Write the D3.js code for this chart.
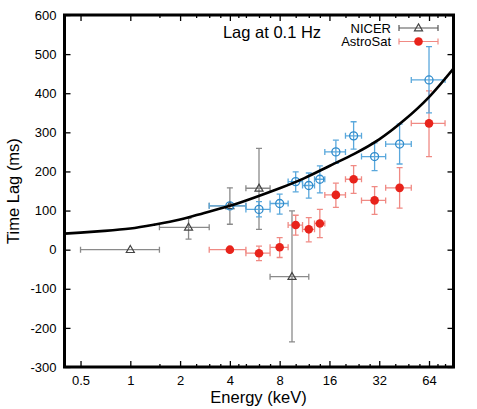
<!DOCTYPE html>
<html>
<head>
<meta charset="utf-8">
<script src="https://cdn.jsdelivr.net/npm/d3@7"></script>
<style>
  body { margin: 0; background: #fff; }
  svg { font-family: "Liberation Sans", Arial, sans-serif; }
</style>
</head>
<body>
<div id="chart"></div>
<script>
// NICER points (energy, energy range, lag, lag range)
const nicerE = [1, 2.25, 4, 6, 9.5];
const nicerElo = [0.5, 1.5, 3, 5, 7];
const nicerEhi = [1.5, 3, 5, 7, 12];
const nicerLag = [0, 57, 112, 157, -69];
const nicerLagLo = [0, 27, 65, 52, -236];
const nicerLagHi = [0, 80, 158, 259, 99];

// AstroSat (red) and the blue open circles share energy bins
const astroE = [4, 6, 8, 10, 12, 14, 17.5, 22.4, 30, 42.5, 64];
const astroElo = [3, 5, 7, 9, 11, 13, 15, 20, 25, 35, 50];
const astroEhi = [5, 7, 9, 11, 13, 15, 20, 25, 35, 50, 80];
const astroLag = [0, -9, 6, 63, 52, 67, 140, 180, 126, 158, 323];
const astroLagLo = [0, -28, -20, 37, 20, 31, 108, 144, 90, 106, 238];
const astroLagHi = [0, 9, 31, 88, 82, 103, 170, 215, 161, 210, 406];

const blueLag = [112, 103, 118, 174, 164, 180, 250, 291, 238, 270, 434];
const blueLagLo = [112, 84, 91, 148, 132, 145, 221, 257, 202, 219, 350];
const blueLagHi = [112, 123, 142, 199, 196, 214, 280, 327, 273, 321, 519];

// model curve
const curveE = [0.4, 0.5, 0.7, 1, 1.4, 2, 2.8, 4, 5.7, 8, 11.3, 16, 22.6, 32, 45, 64, 90];
const curveLag = [41, 43.5, 48, 54, 64, 77, 94, 112, 134, 157, 183, 214, 245, 282, 330, 390, 463];

const xTicks = [0.5, 1, 2, 4, 8, 16, 32, 64];
const xMinorTicks = [1.5, 2.5, 3, 3.5, 4.5, 5, 6, 7, 10, 12, 14, 20, 24, 28, 40, 48, 56, 72, 80];
const yTicks = [-300, -200, -100, 0, 100, 200, 300, 400, 500, 600];

const W = 477, H = 409;
const mLeft = 64.5, mRight = 453.5, mTop = 15, mBottom = 367;

const svg = d3.select("#chart").append("svg")
    .attr("width", W)
    .attr("height", H);

const x = d3.scaleLog().base(2).domain([0.4, 90]).range([mLeft, mRight]);
const y = d3.scaleLinear().domain([-300, 600]).range([mBottom, mTop]);

svg.append("defs").append("clipPath").attr("id", "clip")
    .append("rect")
    .attr("x", mLeft).attr("y", mTop)
    .attr("width", mRight - mLeft).attr("height", mBottom - mTop);

const fmt = d => String(d);

// axes with inward ticks
svg.append("g")
    .attr("transform", `translate(0,${mBottom})`)
    .call(d3.axisBottom(x).tickValues(xTicks).tickFormat(fmt).tickSize(-6).tickPadding(9))
    .call(g => g.select(".domain").remove());
svg.append("g")
    .attr("transform", `translate(0,${mBottom})`)
    .call(d3.axisBottom(x).tickValues(xMinorTicks).tickFormat("").tickSize(-3))
    .call(g => g.select(".domain").remove());
svg.append("g")
    .attr("transform", `translate(0,${mTop})`)
    .call(d3.axisTop(x).tickValues(xTicks).tickFormat("").tickSize(-6))
    .call(g => g.select(".domain").remove());
svg.append("g")
    .attr("transform", `translate(0,${mTop})`)
    .call(d3.axisTop(x).tickValues(xMinorTicks).tickFormat("").tickSize(-3))
    .call(g => g.select(".domain").remove());
svg.append("g")
    .attr("transform", `translate(${mLeft},0)`)
    .call(d3.axisLeft(y).tickValues(yTicks).tickFormat(fmt).tickSize(-6).tickPadding(8))
    .call(g => g.select(".domain").remove());
svg.append("g")
    .attr("transform", `translate(${mRight},0)`)
    .call(d3.axisRight(y).tickValues(yTicks).tickFormat("").tickSize(-6))
    .call(g => g.select(".domain").remove());

svg.selectAll(".tick line").attr("stroke", "#000").attr("stroke-width", 1.3);
svg.selectAll(".tick text").attr("font-size", 13).attr("fill", "#000")
    .attr("font-family", "Liberation Sans, Arial, sans-serif");

// axis titles
svg.append("text")
    .attr("x", 258.5)
    .attr("y", 403)
    .attr("text-anchor", "middle")
    .attr("font-size", 16.5)
    .text("Energy (keV)");
svg.append("text")
    .attr("transform", `translate(19,${(mTop + mBottom) / 2}) rotate(-90)`)
    .attr("text-anchor", "middle")
    .attr("font-size", 16.5)
    .text("Time Lag (ms)");

svg.append("text")
    .attr("x", 272)
    .attr("y", 38)
    .attr("text-anchor", "middle")
    .attr("font-size", 16.5)
    .text("Lag at 0.1 Hz");

const plot = svg.append("g").attr("clip-path", "url(#clip)");

function errorBars(g, E, Elo, Ehi, V, Vlo, Vhi, color) {
    const cap = 3;
    E.forEach((e, i) => {
        const cx = x(e), cy = y(V[i]);
        const x0 = x(Elo[i]), x1 = x(Ehi[i]);
        const ea = g.append("g").attr("stroke", color).attr("stroke-width", 1.3).attr("fill", "none");
        ea.append("line").attr("x1", x0).attr("x2", x1).attr("y1", cy).attr("y2", cy);
        ea.append("line").attr("x1", x0).attr("x2", x0).attr("y1", cy - cap).attr("y2", cy + cap);
        ea.append("line").attr("x1", x1).attr("x2", x1).attr("y1", cy - cap).attr("y2", cy + cap);
        if (Vhi[i] !== Vlo[i]) {
            const y0 = y(Vlo[i]), y1 = y(Vhi[i]);
            ea.append("line").attr("x1", cx).attr("x2", cx).attr("y1", y0).attr("y2", y1);
            ea.append("line").attr("x1", cx - cap).attr("x2", cx + cap).attr("y1", y0).attr("y2", y0);
            ea.append("line").attr("x1", cx - cap).attr("x2", cx + cap).attr("y1", y1).attr("y2", y1);
        }
    });
}

const tri = d3.symbol().type(d3.symbolTriangle).size(28);

// NICER
errorBars(plot, nicerE, nicerElo, nicerEhi, nicerLag, nicerLagLo, nicerLagHi, "#8a8a8a");
plot.selectAll(".nicer").data(nicerE).join("path")
    .attr("class", "nicer")
    .attr("d", tri)
    .attr("transform", (d, i) => `translate(${x(d)},${y(nicerLag[i]) + 0.5})`)
    .attr("fill", "none").attr("stroke", "#444").attr("stroke-width", 1.2);

// AstroSat
errorBars(plot, astroE, astroElo, astroEhi, astroLag, astroLagLo, astroLagHi, "#f08a84");
plot.selectAll(".astro").data(astroE).join("circle")
    .attr("class", "astro")
    .attr("cx", d => x(d))
    .attr("cy", (d, i) => y(astroLag[i]))
    .attr("r", 4.3)
    .attr("fill", "#e8231b");

// blue open circles
errorBars(plot, astroE, astroElo, astroEhi, blueLag, blueLagLo, blueLagHi, "#5aa8dc");
plot.selectAll(".blue").data(astroE).join("circle")
    .attr("class", "blue")
    .attr("cx", d => x(d))
    .attr("cy", (d, i) => y(blueLag[i]))
    .attr("r", 4)
    .attr("fill", "none")
    .attr("stroke", "#2f8bcc")
    .attr("stroke-width", 1.3);

// model curve
plot.append("path")
    .datum(curveE.map((e, i) => [e, curveLag[i]]))
    .attr("d", d3.line().x(d => x(d[0])).y(d => y(d[1])).curve(d3.curveNatural))
    .attr("fill", "none")
    .attr("stroke", "#000")
    .attr("stroke-width", 2.6);

// legend
const legend = [
    { name: "NICER", color: "#555", ly: 28 },
    { name: "AstroSat", color: "#f08a84", ly: 41.5 }
];
legend.forEach(l => {
    const lg = svg.append("g");
    lg.append("text").attr("x", 391).attr("y", l.ly).attr("dy", "0.35em")
        .attr("text-anchor", "end").attr("font-size", 13).text(l.name);
    const g = lg.append("g").attr("stroke", l.color).attr("stroke-width", 1.2);
    g.append("line").attr("x1", 399).attr("x2", 438).attr("y1", l.ly).attr("y2", l.ly);
    g.append("line").attr("x1", 399).attr("x2", 399).attr("y1", l.ly - 3).attr("y2", l.ly + 3);
    g.append("line").attr("x1", 438).attr("x2", 438).attr("y1", l.ly - 3).attr("y2", l.ly + 3);
    if (l.name === "NICER") {
        lg.append("path").attr("d", tri).attr("transform", `translate(418.5,${l.ly + 0.5})`)
            .attr("fill", "none").attr("stroke", "#444").attr("stroke-width", 1.2);
    } else {
        lg.append("circle").attr("cx", 418.5).attr("cy", l.ly).attr("r", 4.3).attr("fill", "#e8231b");
    }
});

// frame
svg.append("rect")
    .attr("x", mLeft).attr("y", mTop)
    .attr("width", mRight - mLeft).attr("height", mBottom - mTop)
    .attr("fill", "none").attr("stroke", "#000").attr("stroke-width", 3);
</script>
</body>
</html>
